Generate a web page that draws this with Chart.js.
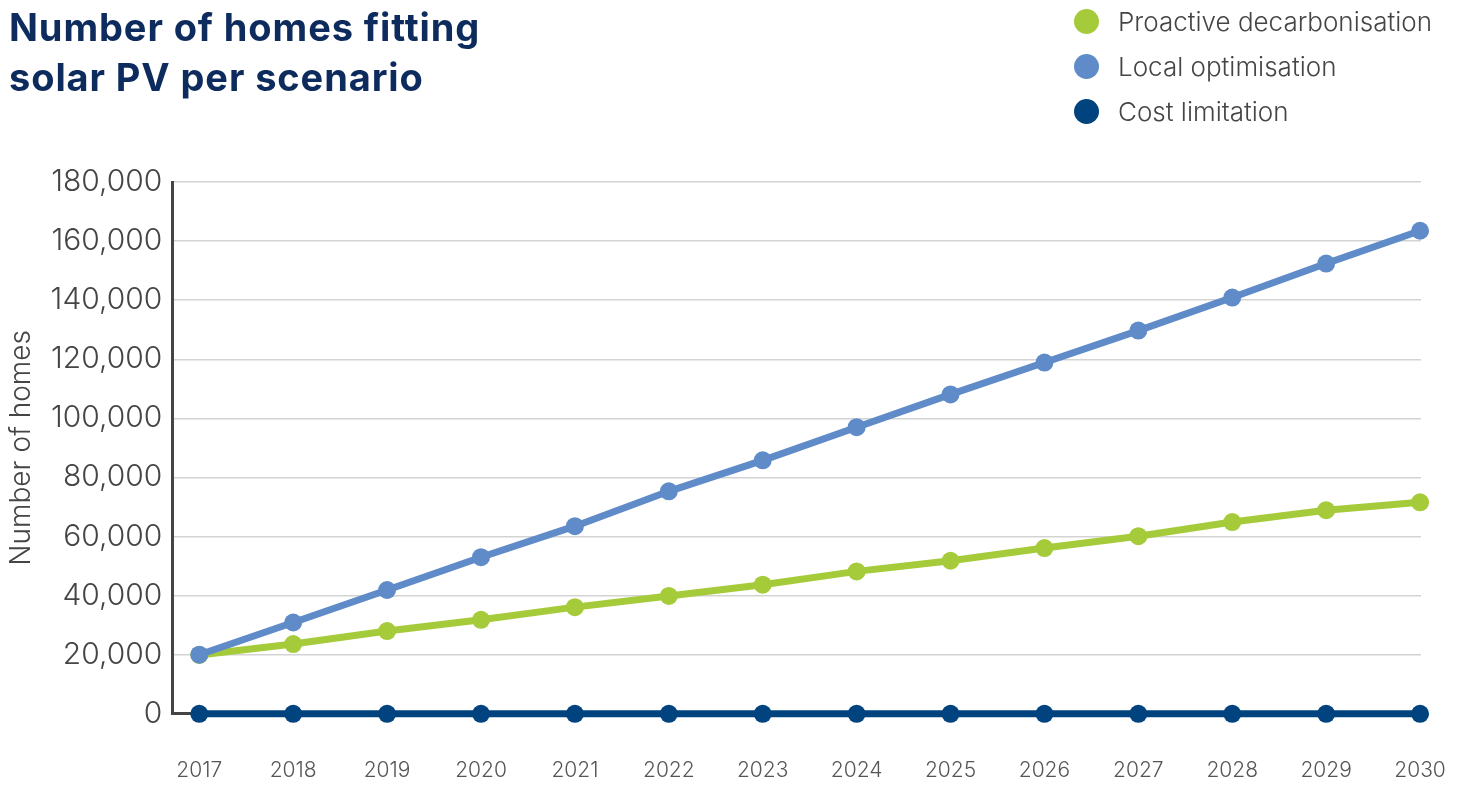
<!DOCTYPE html>
<html>
<head>
<meta charset="utf-8">
<script src="https://cdn.jsdelivr.net/npm/chart.js@4.4.1/dist/chart.umd.min.js"></script>
<style>
  body { margin: 0; background: #fff; font-family: Inter, Lato, sans-serif; }
  #wrap { position: relative; width: 1462px; height: 785px; }
  #chart { position: absolute; left: 0; top: 0; }
  #title {
    position: absolute; left: 9px; top: 2px;
    font-size: 38px; font-weight: 700; line-height: 50px;
    color: #0d2b5c; letter-spacing: 0.9px;
  }
  #legend { position: absolute; left: 1074px; top: -1px; }
  .legend-item { display: flex; align-items: center; height: 45px; }
  .legend-dot { width: 25px; height: 25px; border-radius: 50%; margin-right: 19px; }
  .legend-item span { font-size: 26px; color: #454545; font-weight: 300; }
</style>
</head>
<body>
<div id="wrap">
  <canvas id="chart" width="1462" height="785"></canvas>
  <div id="title">Number of homes fitting<br>solar PV per scenario</div>
  <div id="legend"></div>
</div>
<script>
const years = [2017, 2018, 2019, 2020, 2021, 2022, 2023, 2024, 2025, 2026, 2027, 2028, 2029, 2030];
const proactive = [19900, 23600, 28000, 31800, 36100, 39900, 43700, 48200, 51800, 56100, 60100, 64900, 68900, 71600];
const local = [20000, 30900, 41900, 53000, 63500, 75300, 85800, 97000, 108100, 118900, 129700, 140900, 152400, 163500];
const cost = [0, 0, 0, 0, 0, 0, 0, 0, 0, 0, 0, 0, 0, 0];
const seriesNames = ["Proactive decarbonisation", "Local optimisation", "Cost limitation"];
const seriesColors = ["#a5cb3a", "#5f8bc8", "#00437f"];
const yTicks = [0, 20000, 40000, 60000, 80000, 100000, 120000, 140000, 160000, 180000];

const toPoints = (values) => values.map((v, i) => ({ x: years[i], y: v }));

const makeDataset = (idx, values, order) => ({
  label: seriesNames[idx],
  data: toPoints(values),
  borderColor: seriesColors[idx],
  backgroundColor: seriesColors[idx],
  borderWidth: 7,
  pointRadius: 9,
  pointHoverRadius: 9,
  pointBorderWidth: 0,
  tension: 0,
  clip: false,
  order: order,
});

const chart = new Chart(document.getElementById("chart"), {
  type: "line",
  data: {
    datasets: [
      makeDataset(0, proactive, 2),
      makeDataset(1, local, 1),
      makeDataset(2, cost, 0),
    ],
  },
  options: {
    responsive: false,
    animation: false,
    layout: { padding: { top: 182, left: 5, right: 41, bottom: -42 } },
    plugins: {
      legend: { display: false },
      tooltip: { enabled: false },
    },
    scales: {
      x: {
        type: "linear",
        min: 2016.713,
        max: 2030.01,
        afterBuildTicks: (axis) => {
          axis.ticks = years.map((y) => ({ value: y }));
        },
        afterFit: (axis) => {
          // let the plot run to the right padding, not the label overhang
          axis.paddingRight = 0;
          axis.paddingLeft = 0;
        },
        ticks: {
          callback: (value) => String(value),
          color: "#555",
          font: { family: "Inter", size: 21, weight: 300 },
          padding: 44,
          maxRotation: 0,
          autoSkip: false,
        },
        grid: { display: false, drawTicks: false },
        border: { display: true, color: "#444", width: 3 },
      },
      y: {
        min: 0,
        max: 180000,
        afterBuildTicks: (axis) => {
          axis.ticks = yTicks.map((v) => ({ value: v }));
        },
        ticks: {
          callback: (value) => value.toLocaleString("en-GB"),
          color: "#454545",
          font: { family: "Inter", size: 30, weight: 300 },
          padding: 10,
        },
        grid: { color: "#d3d3d3", lineWidth: 1.5, drawTicks: false },
        border: { display: true, color: "#444", width: 3 },
        title: {
          display: true,
          text: "Number of homes",
          color: "#454545",
          font: { family: "Inter", size: 28, weight: 300 },
          padding: { top: 0, bottom: 2 },
        },
      },
    },
  },
});

// legend built from the same series arrays
const legendEl = document.getElementById("legend");
seriesNames.forEach((name, i) => {
  const item = document.createElement("div");
  item.className = "legend-item";
  const dot = document.createElement("div");
  dot.className = "legend-dot";
  dot.style.background = seriesColors[i];
  const label = document.createElement("span");
  label.textContent = name;
  item.appendChild(dot);
  item.appendChild(label);
  legendEl.appendChild(item);
});
</script>
</body>
</html>
